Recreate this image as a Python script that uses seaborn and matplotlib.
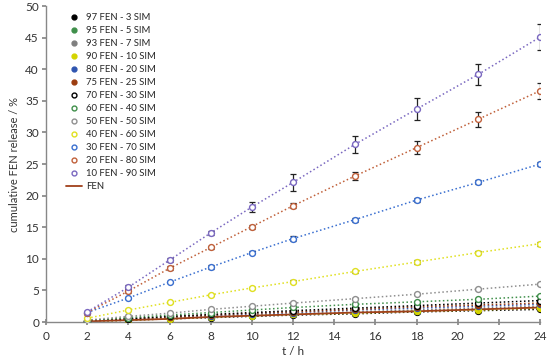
import matplotlib.pyplot as plt
from matplotlib.lines import Line2D
import seaborn as sns
import pandas as pd

# sampling times (h)
tempo = [2, 4, 6, 8, 10, 12, 15, 18, 21, 24]

# cumulative FEN release (%) per formulation
fen97 = [0.1, 0.3, 0.5, 0.7, 0.9, 1.1, 1.3, 1.6, 1.8, 2.0]
fen95 = [0.1, 0.3, 0.6, 0.8, 1.0, 1.2, 1.5, 1.8, 2.0, 2.3]
fen93 = [0.1, 0.4, 0.6, 0.9, 1.1, 1.3, 1.6, 1.9, 2.2, 2.5]
fen90 = [0.1, 0.3, 0.5, 0.8, 1.0, 1.2, 1.4, 1.7, 1.9, 2.2]
fen80 = [0.2, 0.5, 0.8, 1.0, 1.3, 1.5, 1.9, 2.2, 2.5, 2.8]
fen75 = [0.2, 0.5, 0.8, 1.1, 1.4, 1.6, 2.0, 2.4, 2.7, 3.0]
fen70 = [0.2, 0.5, 0.9, 1.2, 1.5, 1.8, 2.2, 2.6, 3.0, 3.4]
fen60 = [0.2, 0.7, 1.1, 1.5, 1.9, 2.3, 2.8, 3.2, 3.6, 4.1]
fen50 = [0.3, 0.9, 1.4, 2.0, 2.5, 3.0, 3.7, 4.4, 5.2, 6.0]
fen40 = [0.6, 1.9, 3.1, 4.3, 5.4, 6.4, 8.0, 9.5, 11.0, 12.4]
fen30 = [1.5, 3.8, 6.3, 8.7, 11.0, 13.2, 16.2, 19.3, 22.1, 25.0]
fen20 = [1.5, 4.9, 8.5, 11.8, 15.1, 18.4, 23.1, 27.6, 32.1, 36.6]
fen10 = [1.6, 5.5, 9.8, 14.1, 18.2, 22.1, 28.1, 33.7, 39.2, 45.1]
fen_puro = [0.1, 0.3, 0.5, 0.8, 1.0, 1.2, 1.5, 1.7, 2.0, 2.3]

# standard deviations
dp_peq = [0.1, 0.1, 0.1, 0.1, 0.1, 0.1, 0.1, 0.1, 0.1, 0.1]
dp40 = [0.1, 0.1, 0.1, 0.2, 0.2, 0.2, 0.3, 0.3, 0.3, 0.3]
dp30 = [0.1, 0.2, 0.2, 0.3, 0.3, 0.4, 0.3, 0.3, 0.3, 0.3]
dp20 = [0.1, 0.3, 0.3, 0.3, 0.3, 0.4, 0.6, 1.0, 1.2, 1.3]
dp10 = [0.2, 0.3, 0.3, 0.3, 0.8, 1.3, 1.4, 1.8, 1.7, 2.1]

nomes = ['97 FEN - 3 SIM', '95 FEN - 5 SIM', '93 FEN - 7 SIM', '90 FEN - 10 SIM',
         '80 FEN - 20 SIM', '75 FEN - 25 SIM', '70 FEN - 30 SIM', '60 FEN - 40 SIM',
         '50 FEN - 50 SIM', '40 FEN - 60 SIM', '30 FEN - 70 SIM', '20 FEN - 80 SIM',
         '10 FEN - 90 SIM']
valores = [fen97, fen95, fen93, fen90, fen80, fen75, fen70, fen60, fen50, fen40,
           fen30, fen20, fen10]
erros = [dp_peq] * 9 + [dp40, dp30, dp20, dp10]
cores = ['#000000', '#3f8f4a', '#7f7f7f', '#d4d400', '#2f55b0', '#9c3d10',
         '#000000', '#3f8f4a', '#8f8f8f', '#e0e020', '#3a6fd0', '#c0603a',
         '#7a68c0']
cheio = [True] * 6 + [False] * 7

sns.set_theme(style="white")
plt.rcParams['font.family'] = ['Lato', 'DejaVu Sans']

fig = plt.figure(figsize=(5.5, 3.59), dpi=100)
ax = fig.add_axes([0.0836, 0.103, 0.8984, 0.880])

handles = []
for nome, v, e, c, f in zip(nomes, valores, erros, cores, cheio):
    face = c if f else 'white'
    sns.lineplot(x=tempo, y=v, color=c, linestyle=':', linewidth=1.1, ax=ax)
    ax.errorbar(tempo, v, yerr=e, fmt='none', ecolor='#222222', elinewidth=0.9,
                capsize=2, capthick=0.9, zorder=3)
    sns.scatterplot(x=tempo, y=v, color=face, edgecolor=c, linewidth=1.0, s=18,
                    ax=ax, zorder=4)
    handles.append(Line2D([], [], linestyle='none', marker='o', markersize=3.5,
                          markerfacecolor=face, markeredgecolor=c,
                          markeredgewidth=1.0, label=nome))

sns.lineplot(x=tempo, y=fen_puro, color='#a0401a', linewidth=1.3, ax=ax)
handles.append(Line2D([], [], color='#a0401a', linewidth=1.3, label='FEN'))

ax.set_xlim(0, 24)
ax.set_ylim(0, 50)
ax.set_xticks(range(0, 25, 2))
ax.set_yticks(range(0, 51, 5))
for s in ['top', 'right']:
    ax.spines[s].set_visible(False)
for s in ['left', 'bottom']:
    ax.spines[s].set_color('#888888')
    ax.spines[s].set_linewidth(1.0)
ax.tick_params(axis='y', direction='out', length=3, color='#888888',
               labelsize=8.5, labelcolor='#333333', left=True, pad=2)
ax.tick_params(axis='x', direction='inout', length=5, color='#888888',
               labelsize=8.5, labelcolor='#333333', bottom=True, pad=4)
ax.set_xlabel('t / h', fontsize=8.5, color='#333333', labelpad=3)
ax.set_ylabel('cumulative FEN release / %', fontsize=8, color='#333333', labelpad=4)

ax.legend(handles=handles, loc='upper left', bbox_to_anchor=(0.03, 0.995),
          frameon=False, fontsize=6.8, handlelength=1.6, handletextpad=0.5,
          labelspacing=0.42, borderaxespad=0.2)

fig.savefig('out.png', dpi=100)
